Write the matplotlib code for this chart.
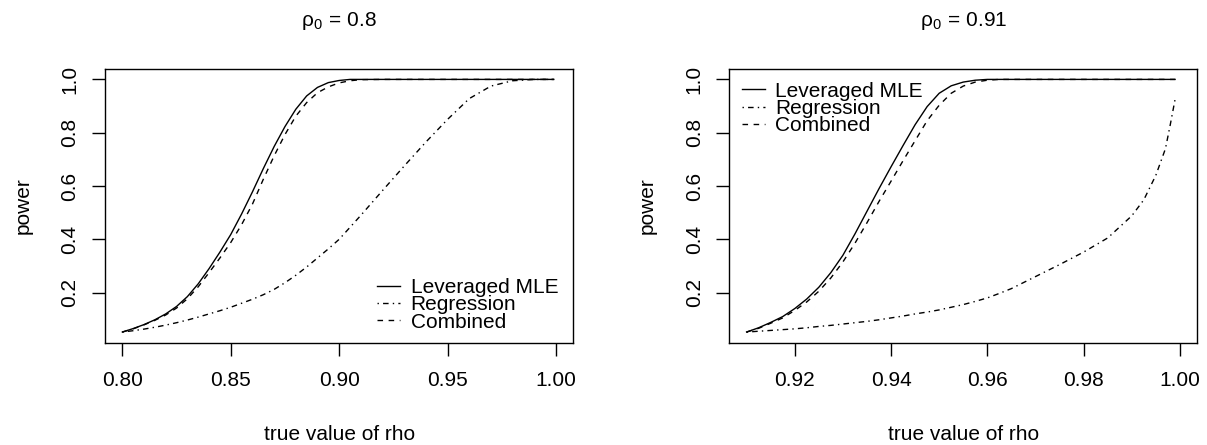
import matplotlib
matplotlib.use("Agg")
import matplotlib.pyplot as plt

plt.rcParams["font.family"] = ["Liberation Sans", "DejaVu Sans"]
plt.rcParams["mathtext.fontset"] = "custom"
plt.rcParams["mathtext.rm"] = "Liberation Sans"
plt.rcParams["mathtext.it"] = "Liberation Sans:italic"

# ---- left panel: rho0 = 0.8 ----
rho_a = [0.800, 0.805, 0.810, 0.815, 0.820, 0.825, 0.830, 0.835, 0.840, 0.845,
         0.850, 0.855, 0.860, 0.865, 0.870, 0.875, 0.880, 0.885, 0.890, 0.895,
         0.900, 0.905, 0.910, 0.920, 0.930, 0.940, 0.950, 0.960, 0.970, 0.980,
         0.990, 0.999]
mle_a = [0.052, 0.065, 0.080, 0.098, 0.120, 0.148, 0.185, 0.233, 0.290, 0.352,
         0.418, 0.495, 0.578, 0.665, 0.748, 0.823, 0.888, 0.938, 0.970, 0.988,
         0.996, 1.000, 1.000, 1.000, 1.000, 1.000, 1.000, 1.000, 1.000, 1.000,
         1.000, 1.000]
comb_a = [0.052, 0.064, 0.079, 0.096, 0.116, 0.142, 0.177, 0.222, 0.275, 0.330,
          0.388, 0.455, 0.532, 0.625, 0.713, 0.793, 0.862, 0.913, 0.950, 0.972,
          0.987, 0.995, 0.999, 1.000, 1.000, 1.000, 1.000, 1.000, 1.000, 1.000,
          1.000, 1.000]
reg_a = [0.052, 0.057, 0.063, 0.070, 0.078, 0.087, 0.097, 0.108, 0.120, 0.132,
         0.145, 0.160, 0.175, 0.192, 0.212, 0.237, 0.265, 0.296, 0.330, 0.364,
         0.400, 0.445, 0.490, 0.583, 0.675, 0.765, 0.850, 0.928, 0.975, 0.995,
         1.000, 1.000]

# ---- right panel: rho0 = 0.91 ----
rho_b = [0.910, 0.9125, 0.915, 0.9175, 0.920, 0.9225, 0.925, 0.9275, 0.930, 0.9325,
         0.935, 0.9375, 0.940, 0.9425, 0.945, 0.9475, 0.950, 0.9525, 0.955, 0.9575,
         0.960, 0.9625, 0.965, 0.970, 0.975, 0.980, 0.985, 0.990, 0.9925, 0.995,
         0.997, 0.998, 0.999]
mle_b = [0.052, 0.068, 0.088, 0.110, 0.140, 0.176, 0.220, 0.275, 0.340, 0.420,
         0.505, 0.590, 0.672, 0.752, 0.830, 0.898, 0.948, 0.976, 0.990, 0.997,
         1.000, 1.000, 1.000, 1.000, 1.000, 1.000, 1.000, 1.000, 1.000, 1.000,
         1.000, 1.000, 1.000]
comb_b = [0.052, 0.066, 0.085, 0.105, 0.133, 0.165, 0.205, 0.255, 0.315, 0.385,
          0.462, 0.542, 0.618, 0.695, 0.770, 0.845, 0.903, 0.948, 0.975, 0.990,
          0.997, 1.000, 1.000, 1.000, 1.000, 1.000, 1.000, 1.000, 1.000, 1.000,
          1.000, 1.000, 1.000]
reg_b = [0.052, 0.055, 0.058, 0.061, 0.064, 0.068, 0.073, 0.077, 0.082, 0.087,
         0.092, 0.098, 0.105, 0.112, 0.120, 0.127, 0.135, 0.145, 0.155, 0.167,
         0.180, 0.197, 0.215, 0.260, 0.305, 0.352, 0.405, 0.488, 0.548, 0.640,
         0.740, 0.830, 0.925]

titles = [r"$\mathrm{\rho}_0\,=\,0.8$", r"$\mathrm{\rho}_0\,=\,0.91$"]
xticks_a = [0.80, 0.85, 0.90, 0.95, 1.00]
xticks_b = [0.92, 0.94, 0.96, 0.98, 1.00]
yticks = [0.2, 0.4, 0.6, 0.8, 1.0]
labels = ["Leveraged MLE", "Regression", "Combined"]

FS = 15
fig = plt.figure(figsize=(12.07, 4.45), dpi=100)
ax1 = fig.add_axes([0.0870, 0.2299, 0.3880, 0.6144])
ax2 = fig.add_axes([0.6042, 0.2299, 0.3877, 0.6144])

styles = ["-", (0, (1, 3, 4, 3)), (0, (4, 4))]

panels = [
    (ax1, rho_a, [mle_a, reg_a, comb_a], xticks_a, (0.792, 1.008)),
    (ax2, rho_b, [mle_b, reg_b, comb_b], xticks_b, (0.9064, 1.0036)),
]

for i, (ax, x, ys, xt, xlim) in enumerate(panels):
    for y, ls, lab in zip(ys, styles, labels):
        ax.plot(x, y, color="black", lw=1.0, linestyle=ls, label=lab)
    ax.set_xlim(*xlim)
    ax.set_ylim(0.012, 1.038)
    ax.set_xticks(xt)
    ax.set_xticklabels(["%.2f" % v for v in xt])
    ax.set_yticks(yticks)
    ax.set_yticklabels(["%.1f" % v for v in yticks], rotation=90, va="center")
    ax.tick_params(axis="both", direction="out", length=9.4, width=1.0,
                   labelsize=FS, color="black")
    ax.tick_params(axis="x", pad=11)
    ax.tick_params(axis="y", pad=9)
    for sp in ax.spines.values():
        sp.set_linewidth(1.0)
    ax.set_xlabel("true value of rho", fontsize=FS, labelpad=25)
    ax.set_ylabel("power", fontsize=FS, labelpad=20)
    ax.set_title(titles[i], fontsize=FS, pad=31)

ax1.legend(loc="lower right", bbox_to_anchor=(0.968, 0.04), frameon=False,
           fontsize=FS, borderpad=0, borderaxespad=0, handlelength=1.1,
           handletextpad=0.5, labelspacing=-0.08)
ax2.legend(loc="upper left", bbox_to_anchor=(0.0265, 0.955), frameon=False,
           fontsize=FS, borderpad=0, borderaxespad=0, handlelength=1.1,
           handletextpad=0.5, labelspacing=-0.08)

fig.savefig("out.png", dpi=100)
